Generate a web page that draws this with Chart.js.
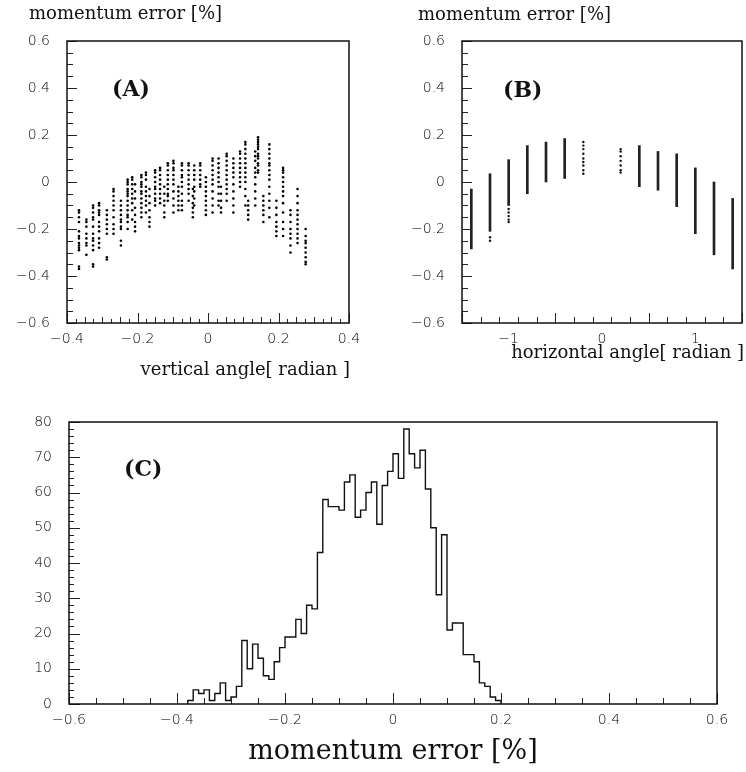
<!DOCTYPE html>
<html>
<head>
<meta charset="utf-8">
<script src="https://cdn.jsdelivr.net/npm/chart.js@4/dist/chart.umd.min.js"></script>
<style>
  body { margin: 0; background: #fff; }
  #wrap { position: relative; width: 746px; height: 772px; }
  canvas { position: absolute; }
  #cA { left: 0; top: 0; }
  #cB { left: 373px; top: 0; }
  #cC { left: 0; top: 390px; }
</style>
</head>
<body>
<div id="wrap">
  <canvas id="cA" width="373" height="390"></canvas>
  <canvas id="cB" width="373" height="390"></canvas>
  <canvas id="cC" width="746" height="382"></canvas>
</div>
<script>
// (A) momentum error vs vertical angle: one entry per dot column
const angleA = [-0.366, -0.345, -0.326, -0.309, -0.287, -0.268, -0.247, -0.228, -0.215, -0.207,
  -0.189, -0.176, -0.166, -0.150, -0.136, -0.124, -0.114, -0.098, -0.084, -0.074,
  -0.055, -0.043, -0.039, -0.022, -0.006, 0.013, 0.030, 0.037, 0.053, 0.072,
  0.091, 0.106, 0.114, 0.134, 0.142, 0.157, 0.174, 0.194, 0.213, 0.234, 0.254, 0.277];
const errorA = [
  [-0.12, -0.13, -0.15, -0.17, -0.21, -0.23, -0.24, -0.26, -0.27, -0.28, -0.29, -0.36, -0.37],
  [-0.16, -0.17, -0.19, -0.22, -0.24, -0.26, -0.27, -0.31],
  [-0.10, -0.11, -0.13, -0.15, -0.16, -0.19, -0.22, -0.24, -0.25, -0.27, -0.29, -0.35, -0.36],
  [-0.09, -0.10, -0.12, -0.13, -0.14, -0.17, -0.19, -0.21, -0.24, -0.26, -0.28],
  [-0.12, -0.14, -0.16, -0.18, -0.20, -0.22, -0.32, -0.33],
  [-0.03, -0.04, -0.06, -0.08, -0.10, -0.12, -0.15, -0.18, -0.20, -0.22],
  [-0.08, -0.10, -0.12, -0.14, -0.16, -0.17, -0.19, -0.20, -0.25, -0.27],
  [0.01, 0.0, -0.01, -0.03, -0.04, -0.05, -0.06, -0.08, -0.10, -0.12, -0.14, -0.15, -0.17, -0.20],
  [0.02, 0.01, -0.01, -0.03, -0.05, -0.07, -0.09, -0.12, -0.16],
  [-0.01, -0.04, -0.07, -0.11, -0.14, -0.17, -0.19, -0.21],
  [0.03, 0.02, 0.0, -0.01, -0.02, -0.04, -0.05, -0.07, -0.09, -0.11, -0.13, -0.15],
  [0.04, 0.03, 0.01, -0.02, -0.04, -0.06, -0.08, -0.10, -0.13],
  [-0.03, -0.06, -0.09, -0.12, -0.15, -0.17, -0.19],
  [0.05, 0.04, 0.02, 0.0, -0.02, -0.03, -0.05, -0.07, -0.08, -0.10],
  [0.06, 0.05, 0.03, 0.01, -0.01, -0.03, -0.05, -0.07, -0.09],
  [-0.02, -0.05, -0.08, -0.10, -0.13, -0.15],
  [0.08, 0.07, 0.05, 0.03, 0.01, -0.01, -0.03, -0.05, -0.06, -0.08],
  [0.09, 0.08, 0.06, 0.05, 0.03, 0.01, -0.01, -0.04, -0.07, -0.10, -0.13],
  [-0.02, -0.04, -0.06, -0.08, -0.10, -0.12],
  [0.08, 0.07, 0.05, 0.03, 0.02, 0.0, -0.02, -0.05, -0.08, -0.10, -0.12],
  [0.08, 0.07, 0.05, 0.03, 0.01, -0.01, -0.03, -0.05, -0.08],
  [-0.03, -0.06, -0.09, -0.11, -0.13, -0.15],
  [0.07, 0.05, 0.03, 0.01, -0.02, -0.04, -0.07, -0.10],
  [0.08, 0.07, 0.05, 0.03, 0.01, -0.01, -0.02],
  [0.02, 0.0, -0.02, -0.04, -0.06, -0.08, -0.10, -0.12, -0.14],
  [0.10, 0.09, 0.07, 0.05, 0.03, 0.01, -0.01, -0.04, -0.07, -0.10, -0.13],
  [0.10, 0.08, 0.06, 0.04, 0.02, 0.0, -0.02, -0.05, -0.08, -0.10],
  [-0.02, -0.05, -0.08, -0.11, -0.13],
  [0.12, 0.11, 0.09, 0.07, 0.05, 0.03, 0.01, -0.01, -0.03, -0.05, -0.08],
  [0.10, 0.08, 0.06, 0.04, 0.02, -0.01, -0.04, -0.07, -0.10, -0.13],
  [0.13, 0.12, 0.10, 0.08, 0.06, 0.04, 0.02, 0.0, -0.02],
  [0.17, 0.16, 0.14, 0.12, 0.10, 0.08, 0.06, 0.04, 0.02, 0.0, -0.03, -0.06, -0.10],
  [-0.08, -0.10, -0.12, -0.14, -0.16],
  [0.13, 0.11, 0.09, 0.06, 0.04, 0.02, -0.01, -0.04, -0.07, -0.10],
  [0.19, 0.18, 0.17, 0.16, 0.15, 0.14, 0.12, 0.11, 0.10, 0.08, 0.07, 0.05, 0.04],
  [-0.06, -0.08, -0.10, -0.12, -0.14, -0.17],
  [0.16, 0.14, 0.12, 0.10, 0.08, 0.07, 0.05, 0.03, 0.01, -0.02, -0.05, -0.08, -0.11, -0.15],
  [-0.08, -0.11, -0.14, -0.17, -0.19, -0.21, -0.23],
  [0.06, 0.05, 0.04, 0.02, 0.0, -0.02, -0.04, -0.06, -0.09, -0.13, -0.17, -0.20, -0.23],
  [-0.12, -0.14, -0.17, -0.20, -0.22, -0.24, -0.27, -0.30],
  [-0.03, -0.06, -0.09, -0.12, -0.14, -0.16, -0.18, -0.20, -0.22, -0.24, -0.26],
  [-0.20, -0.23, -0.25, -0.26, -0.28, -0.30, -0.32, -0.34, -0.35]
];

// (B) momentum error vs horizontal angle: dense columns as ranges, loose dots listed
const angleB = [-1.4, -1.2, -1.0, -0.8, -0.6, -0.4, 0.4, 0.6, 0.8, 1.0, 1.2, 1.4];
const lowB = [-0.285, -0.21, -0.10, -0.05, 0.0, 0.015, -0.02, -0.035, -0.105, -0.22, -0.31, -0.37];
const highB = [-0.03, 0.035, 0.095, 0.155, 0.17, 0.185, 0.155, 0.13, 0.12, 0.06, 0.0, -0.07];
const dotAngleB = [-1.2, -1.0, -0.2, 0.2];
const dotErrorB = [
  [-0.235, -0.25],
  [-0.115, -0.13, -0.145, -0.16, -0.17],
  [0.17, 0.155, 0.14, 0.12, 0.10, 0.085, 0.07, 0.05, 0.035],
  [0.14, 0.13, 0.11, 0.09, 0.07, 0.05, 0.04]
];

// (C) histogram of momentum error, bins of 0.01 starting at -0.38
const binStart = -0.38;
const binWidth = 0.01;
const counts = [1, 4, 3, 4, 1, 3, 6, 1, 2, 5, 18, 10, 17, 13, 8, 7, 12, 16, 19, 19,
  24, 20, 28, 27, 43, 58, 56, 56, 55, 63, 65, 53, 55, 60, 63, 51, 62, 66, 71, 64,
  78, 71, 67, 72, 61, 50, 31, 48, 21, 23, 23, 14, 14, 12, 6, 5, 2, 1];

// tick labels
const errTicks = [-0.6, -0.4, -0.2, 0, 0.2, 0.4, 0.6];
const vertTicks = [-0.4, -0.2, 0, 0.2, 0.4];
const horizTicks = [-1, 0, 1];
const histXTicks = [-0.6, -0.4, -0.2, 0, 0.2, 0.4, 0.6];
const histYTicks = [0, 10, 20, 30, 40, 50, 60, 70, 80];

const tickFont = { family: 'DejaVu Sans', size: 14, weight: '300' };
const tickColor = '#000';
const serif = 'DejaVu Serif';

function fmt(v) {
  if (Math.abs(v) < 1e-9) return '0';
  return String(parseFloat(v.toFixed(2))).replace('-', '\u2212');
}

// tick marks inside the frame, frame and free text
const decor = {
  id: 'decor',
  afterDraw(chart, args, opts) {
    const { ctx, chartArea: a, scales } = chart;
    ctx.save();
    ctx.strokeStyle = '#222';
    ctx.lineWidth = 1;
    (opts.marks || []).forEach(m => {
      const s = scales[m.axis];
      const n = Math.round((s.max - s.min) / m.step);
      for (let i = 0; i <= n; i++) {
        const p = Math.round(s.getPixelForValue(s.min + i * m.step)) + 0.5;
        ctx.beginPath();
        if (m.axis === 'x') { ctx.moveTo(p, a.bottom); ctx.lineTo(p, a.bottom - m.len); }
        else { ctx.moveTo(a.left, p); ctx.lineTo(a.left + m.len, p); }
        ctx.stroke();
      }
    });
    ctx.lineWidth = 1.5;
    ctx.strokeStyle = '#111';
    ctx.strokeRect(a.left, a.top, a.right - a.left, a.bottom - a.top);
    ctx.fillStyle = '#111';
    ctx.textBaseline = 'middle';
    (opts.texts || []).forEach(t => {
      ctx.font = t.font;
      ctx.textAlign = t.align;
      ctx.fillText(t.text, t.x, t.y);
    });
    ctx.restore();
  }
};

function axis(min, max, labels, fitSize, pad, horizontal) {
  return {
    type: 'linear', min: min, max: max, offset: false,
    grid: { display: false, drawTicks: false },
    border: { display: false },
    afterBuildTicks: s => { s.ticks = labels.map(v => ({ value: v })); },
    afterFit: s => { if (horizontal) s.height = fitSize; else s.width = fitSize; },
    ticks: { padding: pad, font: tickFont, color: tickColor, maxRotation: 0, autoSkip: false,
      callback: v => fmt(v) }
  };
}

const base = {
  responsive: false, animation: false, devicePixelRatio: 1,
  events: [],
  plugins: { legend: { display: false }, tooltip: { enabled: false } }
};

// panel A
const ptsA = [];
angleA.forEach((x, i) => errorA[i].forEach(y => ptsA.push({ x: x, y: y })));
new Chart(document.getElementById('cA'), {
  type: 'scatter',
  data: { datasets: [{ data: ptsA, pointRadius: 1.3, pointBorderWidth: 0, pointBackgroundColor: '#000' }] },
  options: Object.assign({}, base, {
    layout: { padding: { top: 41, right: 24, left: 0, bottom: 0 } },
    scales: { x: axis(-0.4, 0.4, vertTicks, 67, 8, true), y: axis(-0.6, 0.6, errTicks, 67, 17, false) },
    plugins: Object.assign({}, base.plugins, {
      decor: {
        marks: [{ axis: 'x', step: 0.025, len: 4 }, { axis: 'x', step: 0.05, len: 6 }, { axis: 'x', step: 0.2, len: 10 },
                { axis: 'y', step: 0.05, len: 6 }, { axis: 'y', step: 0.2, len: 10 }],
        texts: [
          { text: 'momentum error [%]', x: 29, y: 14, align: 'left', font: '18px "' + serif + '"' },
          { text: 'vertical angle[ radian ]', x: 350, y: 370, align: 'right', font: '18px "' + serif + '"' },
          { text: '(A)', x: 112, y: 90, align: 'left', font: 'bold 22px "' + serif + '"' }
        ]
      }
    })
  }),
  plugins: [decor]
});

// panel B
const ptsB = [];
dotAngleB.forEach((x, i) => dotErrorB[i].forEach(y => ptsB.push({ x: x, y: y })));
new Chart(document.getElementById('cB'), {
  type: 'scatter',
  data: { datasets: [
    { type: 'bar', data: angleB.map((x, i) => ({ x: x, y: [lowB[i], highB[i]] })),
      backgroundColor: '#222', borderWidth: 0, barThickness: 2, grouped: false },
    { data: ptsB, pointRadius: 1.2, pointBorderWidth: 0, pointBackgroundColor: '#111' }
  ] },
  options: Object.assign({}, base, {
    layout: { padding: { top: 41, right: 1, left: 0, bottom: 0 } },
    scales: { x: axis(-1.5, 1.5, horizTicks, 67, 8, true), y: axis(-0.6, 0.6, errTicks, 89, 17, false) },
    plugins: Object.assign({}, base.plugins, {
      decor: {
        marks: [{ axis: 'x', step: 0.2, len: 6, }, { axis: 'x', step: 1, len: 10 },
                { axis: 'y', step: 0.05, len: 6 }, { axis: 'y', step: 0.2, len: 10 }],
        texts: [
          { text: 'momentum error [%]', x: 45, y: 15, align: 'left', font: '18px "' + serif + '"' },
          { text: 'horizontal angle[ radian ]', x: 371, y: 353, align: 'right', font: '18px "' + serif + '"' },
          { text: '(B)', x: 130, y: 91, align: 'left', font: 'bold 22px "' + serif + '"' }
        ]
      }
    })
  }),
  plugins: [decor]
});

// panel C
const histPts = [{ x: binStart, y: 0 }]
  .concat(counts.map((c, k) => ({ x: binStart + k * binWidth, y: c })))
  .concat([{ x: binStart + counts.length * binWidth, y: 0 }]);
const yAxisC = axis(0, 80, histYTicks, 69, 17, false);
yAxisC.ticks.callback = v => String(v);
new Chart(document.getElementById('cC'), {
  type: 'line',
  data: { datasets: [{ data: histPts, stepped: true, borderColor: '#111', borderWidth: 1.4,
    pointRadius: 0, fill: false }] },
  options: Object.assign({}, base, {
    layout: { padding: { top: 32, right: 29, left: 0, bottom: 0 } },
    scales: { x: axis(-0.6, 0.6, histXTicks, 68, 8, true), y: yAxisC },
    plugins: Object.assign({}, base.plugins, {
      decor: {
        marks: [{ axis: 'x', step: 0.05, len: 6 }, { axis: 'x', step: 0.2, len: 11 },
                { axis: 'y', step: 2, len: 5 }, { axis: 'y', step: 10, len: 11 }],
        texts: [
          { text: 'momentum error [%]', x: 393, y: 362, align: 'center', font: '27px "' + serif + '"' },
          { text: '(C)', x: 124, y: 80, align: 'left', font: 'bold 22px "' + serif + '"' }
        ]
      }
    })
  }),
  plugins: [decor]
});
</script>
</body>
</html>
